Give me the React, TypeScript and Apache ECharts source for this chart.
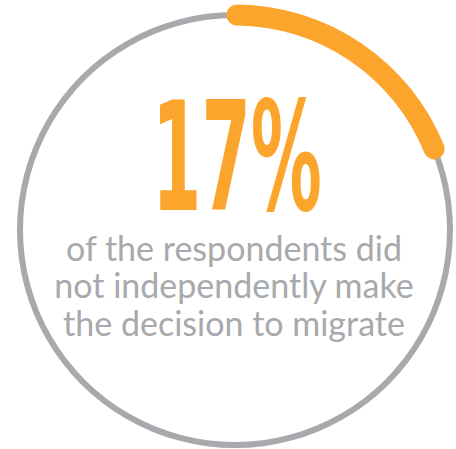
import React, { useEffect, useRef } from "react";
import * as echarts from "echarts";

// Headline share printed in the centre (percent)
const HEADLINE_PERCENT = [17];
// Arc length as drawn in the reference (percent of the full ring)
const ARC_PERCENT = [18.7];
const RING_MAX = [100];
const DESCRIPTION_LINES = [
  "of the respondents did",
  "not independently make",
  "the decision to migrate",
];

const ORANGE = "#FBA52D";
const GREY = "#A7A9AC";

export default function App() {
  const ref = useRef<HTMLDivElement>(null);
  useEffect(() => {
    if (!ref.current) return;
    const chart = echarts.init(ref.current, null, { renderer: "svg" });
    const cx = 235;
    const cy = 230;
    const R = 215;
    const hidden = {
      axisTick: { show: false },
      splitLine: { show: false },
      axisLabel: { show: false },
      pointer: { show: false },
      anchor: { show: false },
      title: { show: false },
      detail: { show: false },
    };
    chart.setOption({
      animation: false,
      backgroundColor: "#ffffff",
      series: [
        {
          type: "gauge",
          center: [cx, cy],
          radius: R + 3,
          startAngle: 90,
          endAngle: -270,
          min: 0,
          max: RING_MAX[0],
          axisLine: { show: true, lineStyle: { width: 6, color: [[1, GREY]] } },
          progress: { show: false },
          data: [{ value: 0 }],
          ...hidden,
        },
        {
          type: "gauge",
          center: [cx, cy],
          radius: R + 10.5,
          startAngle: 89.5,
          endAngle: -270.5,
          min: 0,
          max: RING_MAX[0],
          axisLine: { show: false },
          progress: {
            show: true,
            width: 21,
            roundCap: true,
            itemStyle: { color: ORANGE },
          },
          data: [{ value: ARC_PERCENT[0] }],
          ...hidden,
        },
      ],
      graphic: [
        {
          type: "text",
          x: 237,
          y: 158,
          scaleX: 0.47,
          style: {
            text: HEADLINE_PERCENT[0] + "%",
            fontFamily: "DejaVu Sans",
            fontWeight: "bold",
            fontSize: 151,
            fill: ORANGE,
            textAlign: "center",
            textVerticalAlign: "middle",
          },
        },
        ...DESCRIPTION_LINES.map((line, i) => ({
          type: "text",
          x: 234,
          y: 247 + i * 37.5,
          style: {
            text: line,
            fontFamily: "Lato",
            fontSize: 34,
            fill: GREY,
            textAlign: "center",
            textVerticalAlign: "middle",
          },
        })),
      ],
    });
    return () => chart.dispose();
  }, []);
  return (
    <div
      ref={ref}
      style={{ position: "absolute", left: 0, top: 0, width: 456, height: 449 }}
    />
  );
}
